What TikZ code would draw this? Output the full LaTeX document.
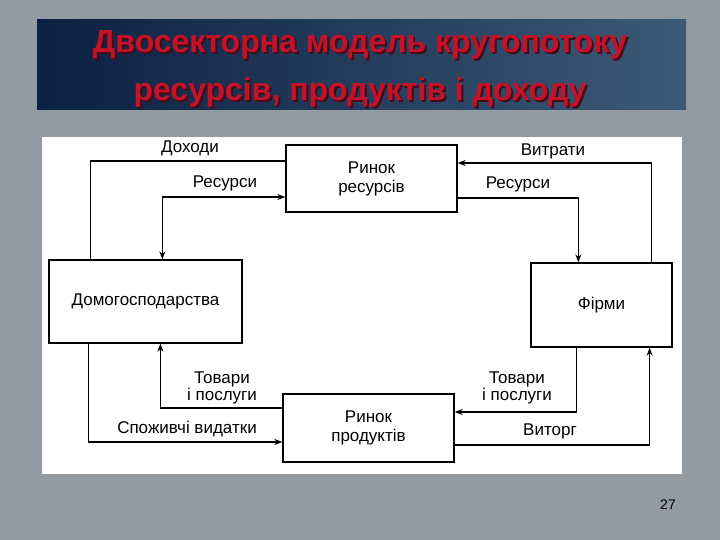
\documentclass[tikz,border=0pt]{standalone}
\usepackage{fontspec}
\setmainfont{Liberation Sans}
\usetikzlibrary{arrows.meta}
\definecolor{bgcol}{RGB}{146,154,162}
\definecolor{titleL}{RGB}{12,32,66}
\definecolor{titleR}{RGB}{60,90,118}
\definecolor{titlered}{RGB}{196,18,40}
\definecolor{shadowred}{RGB}{70,10,25}
\tikzset{
  box/.style={draw=black, line width=1.3pt, fill=white, inner sep=0pt, font=\fontsize{17}{19}\selectfont, align=center},
  lbl/.style={font=\fontsize{17}{17.5}\selectfont, align=center, inner sep=0pt},
  flow/.style={line width=1.5pt, draw=black},
  tip/.tip={Stealth[length=8pt,width=6pt]},
  arr/.style={flow, -tip},
  titletxt/.style={font=\fontsize{32}{34}\selectfont\bfseries, text=titlered},
  titleshadow/.style={font=\fontsize{32}{34}\selectfont\bfseries, text=shadowred}
}
\begin{document}
\begin{tikzpicture}[x=1pt,y=-1pt]
\useasboundingbox (0,0) rectangle (720,540);
\fill[bgcol] (0,0) rectangle (720,540);
% title banner
\shade[left color=titleL, right color=titleR] (37,20) rectangle (686,110);
\node[titleshadow] (t1s) at (362,47) {Двосекторна модель кругопотоку};
\node[titleshadow] (t2s) at (362,94) {ресурсів, продуктів і доходу};
\node[titletxt] (t1) at (360,45) {Двосекторна модель кругопотоку};
\node[titletxt] (t2) at (360,92) {ресурсів, продуктів і доходу};
% white panel
\fill[white] (42,137) rectangle (682,474);
% boxes
\node[box, minimum width=171pt, minimum height=67pt] (rr) at (371.5,178.5) {Ринок\\ресурсів};
\node[box, minimum width=193pt, minimum height=83pt] (hh) at (145.5,301.5) {Домогосподарства};
\node[box, minimum width=141pt, minimum height=84pt] (ff) at (601.5,305) {Фірми};
\node[box, minimum width=171pt, minimum height=68pt] (pr) at (368.5,428) {Ринок\\продуктів};
% connectors
\draw[flow] ([xshift=42pt]hh.north west) |- ([yshift=17.5pt]rr.west);
\draw[flow, tip-tip] ([yshift=-18.5pt]rr.west) -| ([xshift=114pt]hh.north west);
\draw[arr] ([xshift=-21pt]ff.north east) |- ([yshift=15.5pt]rr.east);
\draw[arr] ([yshift=-19.5pt]rr.east) -| ([xshift=48pt]ff.north west);
\draw[arr] ([xshift=46pt]ff.south west) |- ([yshift=16pt]pr.east);
\draw[arr] ([yshift=-17pt]pr.east) -| ([xshift=-23pt]ff.south east);
\draw[arr] ([yshift=20pt]pr.west) -| ([xshift=112pt]hh.south west);
\draw[arr] ([xshift=40pt]hh.south west) |- ([yshift=-14pt]pr.west);
% labels
\node[lbl] (l1) at (190,148) {Доходи};
\node[lbl] (l2) at (225,183) {Ресурси};
\node[lbl] (l3) at (553,151) {Витрати};
\node[lbl] (l4) at (518,184) {Ресурси};
\node[lbl] (l5) at (222,388) {Товари\\і послуги};
\node[lbl] (l6) at (517,388) {Товари\\і послуги};
\node[lbl] (l7) at (187,429) {Споживчі видатки};
\node[lbl] (l8) at (550,431) {Виторг};
% page number
\node[font=\fontsize{14}{16}\selectfont] (pn) at (668,505) {27};
\end{tikzpicture}
\end{document}
